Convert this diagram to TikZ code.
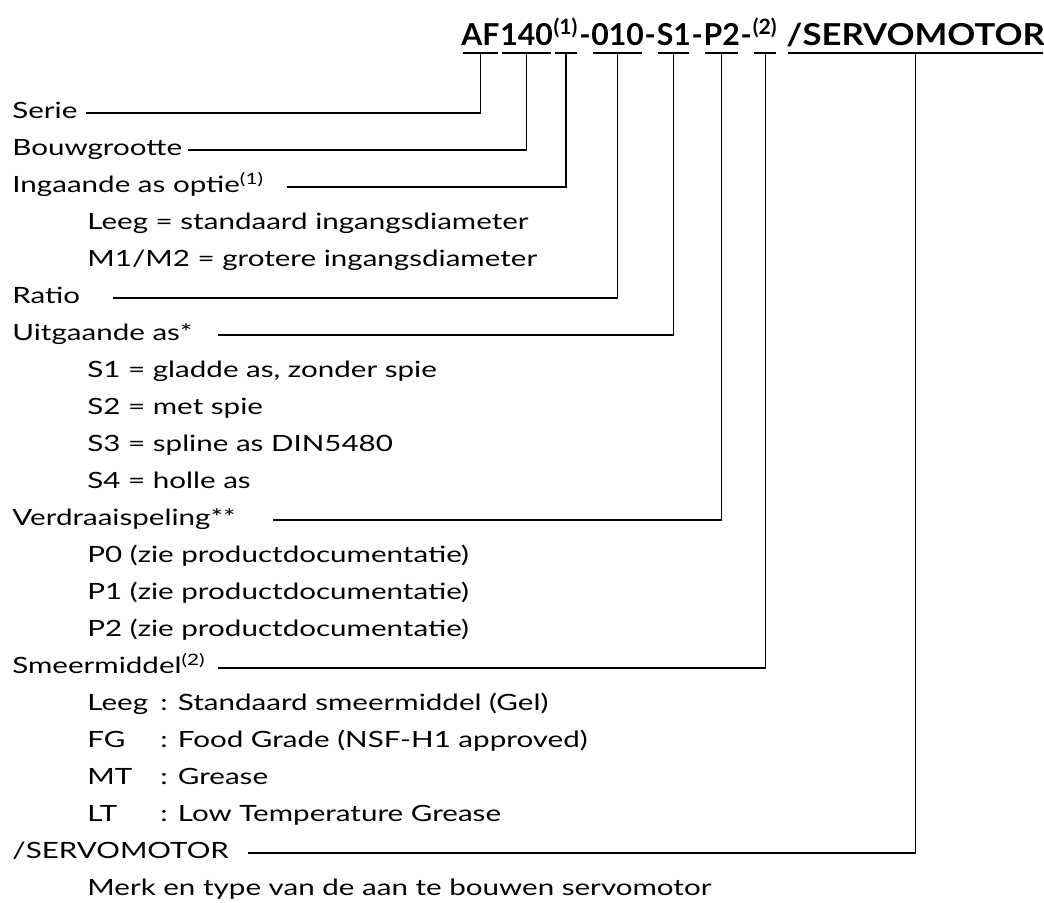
\documentclass[tikz,border=0pt]{standalone}
\usepackage{fontspec}
\setmainfont{Lato}
\newfontfamily\bodyfont[FakeStretch=1.32]{Lato}
\newfontfamily\codefont{Lato}
\newfontfamily\motorfont[FakeStretch=1.15]{Lato}
\usetikzlibrary{positioning}

\begin{document}
\begin{tikzpicture}[x=0.5pt,y=-0.5pt,
  hdr/.style={inner sep=0pt,anchor=base west,font=\codefont\fontsize{15.1}{18}\selectfont\bfseries},
  hdrwide/.style={hdr,font=\motorfont\fontsize{15.1}{18}\selectfont\bfseries},
  lbl/.style={inner sep=0pt,anchor=base west,font=\bodyfont\fontsize{11.2}{13}\selectfont},
  conn/.style={line width=0.65pt},
  uline/.style={line width=0.65pt,shorten <=1pt,shorten >=1pt}]
  \useasboundingbox (0,0) rectangle (1044,902);
  % type code
  \node[hdr] (af) at (461,45) {AF};
  \node[hdr] (size) at (af.base east) {140};
  \node[hdr] (opt1) at (size.base east) {\textsuperscript{(1)}};
  \node[hdr] (d1) at (opt1.base east) {-};
  \node[hdr] (ratio) at (d1.base east) {010};
  \node[hdr] (d2) at (ratio.base east) {-};
  \node[hdr] (shaft) at (d2.base east) {S1};
  \node[hdr] (d3) at (shaft.base east) {-};
  \node[hdr] (play) at (d3.base east) {P2};
  \node[hdr] (d4) at (play.base east) {-};
  \node[hdr] (opt2) at (d4.base east) {\textsuperscript{(2)}};
  \node[hdrwide] (motor) at ([xshift=4pt]opt2.base east) {/SERVOMOTOR};
  \foreach \n in {af,size,opt1,ratio,shaft,play,opt2,motor}
    \draw[uline] ([yshift=-4pt]\n.base west) -- ([yshift=-4pt]\n.base east);

  % main labels
  \node[lbl] (serie) at (12,118) {Serie};
  \node[lbl] (bouw) at (12,155) {Bouwgrootte};
  \node[lbl] (ingang) at (12,192) {Ingaande as optie\textsuperscript{(1)}};
  \node[lbl] (ratio-l) at (12,303) {Ratio};
  \node[lbl] (uitgang) at (12,340) {Uitgaande as*};
  \node[lbl] (spel) at (12,525) {Verdraaispeling**};
  \node[lbl] (smeer) at (12,673) {Smeermiddel\textsuperscript{(2)}};
  \node[lbl] (servo) at (12,858) {/SERVOMOTOR};

  % options
  \foreach \r/\t in {3/{Leeg = standaard ingangsdiameter},4/{M1/M2 = grotere ingangsdiameter},
      7/{S1 = gladde as, zonder spie},8/{S2 = met spie},9/{S3 = spline as DIN5480},10/{S4 = holle as},
      12/{P0 (zie productdocumentatie)},13/{P1 (zie productdocumentatie)},14/{P2 (zie productdocumentatie)},
      21/{Merk en type van de aan te bouwen servomotor}}
    \node[lbl] (item\r) at (87,{118+37*\r}) {\t};
  \foreach \r/\k/\t in {16/Leeg/{Standaard smeermiddel (Gel)},17/FG/{Food Grade (NSF-H1 approved)},
      18/MT/Grease,19/LT/{Low Temperature Grease}}{
    \node[lbl] (key\r) at (87,{118+37*\r}) {\k};
    \node[lbl] (val\r) at (160,{118+37*\r}) {: \t};
  }

  % connectors
  \coordinate (serie-c) at (86,113);
  \coordinate (bouw-c) at (188,150);
  \coordinate (ingang-c) at (287,187);
  \coordinate (ratio-c) at (113,298);
  \coordinate (uit-c) at (218,335);
  \coordinate (spel-c) at (273,520);
  \coordinate (smeer-c) at (218,668);
  \coordinate (servo-c) at (248,853);
  \draw[conn] ([yshift=-4pt]af.base) |- (serie-c);
  \draw[conn] ([yshift=-4pt]size.base) |- (bouw-c);
  \draw[conn] ([yshift=-4pt]opt1.base) |- (ingang-c);
  \draw[conn] ([yshift=-4pt]ratio.base) |- (ratio-c);
  \draw[conn] ([yshift=-4pt]shaft.base) |- (uit-c);
  \draw[conn] ([yshift=-4pt]play.base) |- (spel-c);
  \draw[conn] ([yshift=-4pt]opt2.base) |- (smeer-c);
  \draw[conn] ([yshift=-4pt]motor.base) |- (servo-c);
\end{tikzpicture}
\end{document}
